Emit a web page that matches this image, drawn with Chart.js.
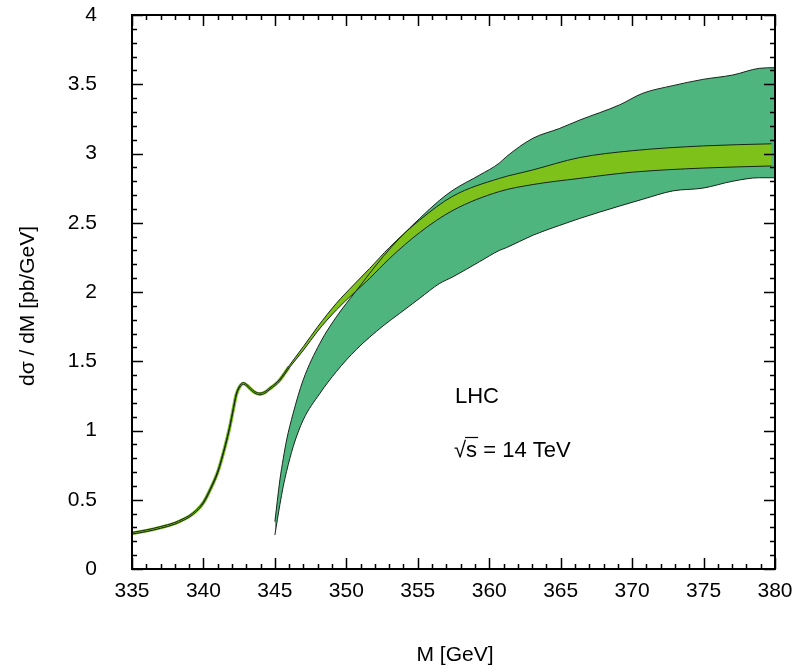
<!DOCTYPE html>
<html>
<head>
<meta charset="utf-8">
<script src="https://cdn.jsdelivr.net/npm/chart.js@4"></script>
<style>
  body { margin: 0; background: #fff; }
  #wrap { width: 795px; height: 668px; }
</style>
</head>
<body>
<div id="wrap"><canvas id="grafico" width="795" height="668"></canvas></div>
<script>
// banda clara (ttbar umbral), masas en GeV, dsigma/dM en pb/GeV
const masaClara = [335, 336, 337, 338, 338.5, 339, 339.5, 340, 340.5, 341, 341.5, 341.85, 342.1, 342.3, 342.55, 342.8, 343.05, 343.3, 343.6, 343.95, 344.3, 344.65, 345, 345.35, 346, 347, 348, 349.3, 350.5, 351.64, 353, 355.14, 357.47, 360.7, 363, 366.3, 370, 375, 379.75];
const claraBaja = [0.252, 0.270, 0.294, 0.324, 0.347, 0.374, 0.414, 0.474, 0.574, 0.694, 0.874, 1.024, 1.154, 1.254, 1.314, 1.334, 1.319, 1.294, 1.269, 1.258, 1.269, 1.297, 1.324, 1.360, 1.452, 1.580, 1.718, 1.870, 1.990, 2.099, 2.240, 2.430, 2.590, 2.725, 2.775, 2.820, 2.865, 2.895, 2.910];
const claraAlta = [0.264, 0.282, 0.306, 0.336, 0.359, 0.386, 0.426, 0.486, 0.586, 0.706, 0.886, 1.036, 1.166, 1.266, 1.326, 1.346, 1.331, 1.306, 1.281, 1.270, 1.281, 1.309, 1.336, 1.372, 1.468, 1.607, 1.750, 1.918, 2.050, 2.171, 2.320, 2.520, 2.693, 2.820, 2.880, 2.970, 3.020, 3.055, 3.070];

// banda oscura
const masaOscura = [345, 345.35, 345.58, 345.82, 346.28, 346.98, 348.15, 349.3, 350.7, 352.57, 353.74, 355.14, 356.5, 357.47, 359.34, 360.7, 361.2, 363.06, 364.9, 366.3, 369.1, 370.75, 372.85, 374.95, 377.05, 378.9, 380];
const oscuraBaja = [0.245, 0.465, 0.594, 0.705, 0.883, 1.076, 1.268, 1.425, 1.585, 1.755, 1.846, 1.955, 2.06, 2.11, 2.22, 2.30, 2.32, 2.41, 2.48, 2.53, 2.62, 2.67, 2.73, 2.75, 2.80, 2.825, 2.825];
const oscuraAlta = [0.342, 0.643, 0.795, 0.931, 1.125, 1.365, 1.63, 1.82, 2.01, 2.255, 2.39, 2.532, 2.66, 2.736, 2.845, 2.93, 2.977, 3.11, 3.18, 3.24, 3.35, 3.435, 3.49, 3.535, 3.567, 3.615, 3.62];

const ticksX = [335, 340, 345, 350, 355, 360, 365, 370, 375, 380];
const ticksY = [0, 0.5, 1, 1.5, 2, 2.5, 3, 3.5, 4];

const verdeOscuro = '#4eb57f';
const verdeClaro = '#7ec11a';
const borde = '#16261a';
const fuente = '"Liberation Sans", Arial, sans-serif';

const pares = (xs, ys) => xs.map((x, i) => ({ x: x, y: ys[i] }));
const umbral = masaClara.map((x, i) => ({ x: x, y: (claraBaja[i] + claraAlta[i]) / 2 })).filter(p => p.x <= 346);

const comun = { pointRadius: 0, borderWidth: 1, borderColor: borde, cubicInterpolationMode: 'monotone' };

// marcas hacia dentro, marco, textos
const extras = {
  id: 'extras',
  afterDraw(chart) {
    const { ctx, chartArea: a, scales: { x, y } } = chart;
    ctx.save();
    ctx.strokeStyle = '#000';
    ctx.lineWidth = 1.5;
    ctx.beginPath();
    for (let m = 335; m <= 380; m++) {
      const px = Math.round(x.getPixelForValue(m)) + 0.5;
      const len = m % 5 === 0 ? 11 : 5;
      ctx.moveTo(px, a.bottom); ctx.lineTo(px, a.bottom - len);
      ctx.moveTo(px, a.top); ctx.lineTo(px, a.top + len);
    }
    for (let k = 0; k <= 40; k++) {
      const py = Math.round(y.getPixelForValue(k / 10)) + 0.5;
      const len = k % 5 === 0 ? 11 : 5;
      ctx.moveTo(a.left, py); ctx.lineTo(a.left + len, py);
      ctx.moveTo(a.right, py); ctx.lineTo(a.right - len, py);
    }
    ctx.stroke();
    ctx.lineWidth = 2;
    ctx.strokeRect(a.left, a.top, a.right - a.left, a.bottom - a.top);

    ctx.fillStyle = '#000';
    ctx.font = '21px ' + fuente;
    ctx.textAlign = 'center';
    ctx.textBaseline = 'middle';
    ctx.fillText('M [GeV]', 455, 655);
    ctx.save();
    ctx.translate(28, 306);
    ctx.rotate(-Math.PI / 2);
    ctx.fillText('dσ / dM [pb/GeV]', 0, 0);
    ctx.restore();

    ctx.font = '22px ' + fuente;
    ctx.textAlign = 'left';
    ctx.textBaseline = 'alphabetic';
    ctx.fillText('LHC', 455, 403);
    const raiz = '√';
    ctx.fillText(raiz, 454, 457);
    const wr = ctx.measureText(raiz).width;
    ctx.fillText('s = 14 TeV', 454 + wr, 457);
    const ws = ctx.measureText('s').width;
    ctx.lineWidth = 1.2;
    ctx.beginPath();
    ctx.moveTo(454 + wr - 1, 437.5);
    ctx.lineTo(454 + wr + ws + 1, 437.5);
    ctx.stroke();
    ctx.restore();
  }
};

new Chart(document.getElementById('grafico'), {
  type: 'line',
  data: {
    datasets: [
      { ...comun, data: pares(masaOscura, oscuraBaja), order: 3, fill: false },
      { ...comun, data: pares(masaOscura, oscuraAlta), order: 3, fill: '-1', backgroundColor: verdeOscuro },
      { ...comun, data: pares(masaClara, claraBaja), order: 1, fill: false },
      { ...comun, data: pares(masaClara, claraAlta), order: 1, fill: '-1', backgroundColor: verdeClaro },
      { ...comun, data: umbral, order: 5, fill: false, borderColor: verdeClaro, borderWidth: 3.5 }
    ]
  },
  options: {
    responsive: false,
    animation: false,
    layout: { padding: { top: 15, right: 20, left: 0, bottom: 0 } },
    plugins: {
      legend: { display: false },
      tooltip: { enabled: false },
      filler: { drawTime: 'beforeDatasetsDraw' }
    },
    scales: {
      x: {
        type: 'linear', min: 335, max: 380,
        afterFit: s => { s.height = 99; s.paddingLeft = 0; s.paddingRight = 0; },
        afterBuildTicks: s => { s.ticks = ticksX.map(v => ({ value: v })); },
        grid: { display: false },
        border: { display: false },
        ticks: { padding: 2, color: '#000', font: { size: 21, family: fuente }, callback: v => String(v), maxRotation: 0 }
      },
      y: {
        type: 'linear', min: 0, max: 4,
        afterFit: s => { s.width = 132; s.paddingTop = 0; s.paddingBottom = 0; },
        afterBuildTicks: s => { s.ticks = ticksY.map(v => ({ value: v })); },
        grid: { display: false },
        border: { display: false },
        ticks: { padding: 27, color: '#000', font: { size: 21, family: fuente }, callback: v => String(v) }
      }
    }
  },
  plugins: [extras]
});
</script>
</body>
</html>
